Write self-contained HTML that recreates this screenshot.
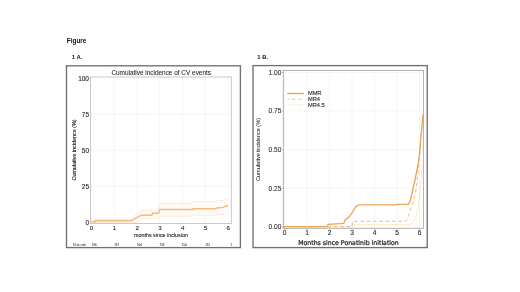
<!DOCTYPE html>
<html><head><meta charset="utf-8"><style>
html,body{margin:0;padding:0;background:#fff;width:520px;height:292px;overflow:hidden}
svg{display:block;font-family:"Liberation Sans", Arial, sans-serif;filter:blur(0.3px)}
</style></head><body>
<svg width="520" height="292" viewBox="0 0 520 292">
<text x="66.8" y="43.0" font-size="6.4" text-anchor="start" font-weight="bold" fill="#111" >Figure</text>
<text x="71.8" y="59.0" font-size="5.9" text-anchor="start" font-weight="bold" fill="#111" >1 A.</text>
<text x="257.3" y="59.0" font-size="5.9" text-anchor="start" font-weight="bold" fill="#111" >1 B.</text>
<rect x="66.5" y="65.8" width="173.9" height="181.8" fill="none" stroke="#707070" stroke-width="1.35"/>
<line x1="114.17" y1="77.0" x2="114.17" y2="223.5" stroke="#f4f4f4" stroke-width="0.8" />
<line x1="136.94" y1="77.0" x2="136.94" y2="223.5" stroke="#f4f4f4" stroke-width="0.8" />
<line x1="159.71" y1="77.0" x2="159.71" y2="223.5" stroke="#f4f4f4" stroke-width="0.8" />
<line x1="182.48000000000002" y1="77.0" x2="182.48000000000002" y2="223.5" stroke="#f4f4f4" stroke-width="0.8" />
<line x1="205.25" y1="77.0" x2="205.25" y2="223.5" stroke="#f4f4f4" stroke-width="0.8" />
<line x1="228.02" y1="77.0" x2="228.02" y2="223.5" stroke="#f4f4f4" stroke-width="0.8" />
<line x1="90.5" y1="186.3" x2="231.3" y2="186.3" stroke="#f4f4f4" stroke-width="0.8" />
<line x1="90.5" y1="150.2" x2="231.3" y2="150.2" stroke="#f4f4f4" stroke-width="0.8" />
<line x1="90.5" y1="114.10000000000001" x2="231.3" y2="114.10000000000001" stroke="#f4f4f4" stroke-width="0.8" />
<path d="M91.40,219.66 L131.25,219.66 L135.80,215.18 L139.22,212.29 L141.49,210.41 L157.43,210.41 L159.71,203.34 L192.50,203.34 L192.95,201.75 L215.95,201.75 L216.63,200.74 L223.47,200.16 L224.60,199.01 L228.02,198.57 L228.02,214.31 L216.63,214.46 L215.95,215.18 L192.95,215.18 L192.50,216.19 L159.71,216.19 L158.57,218.79 L141.49,218.79 L135.80,222.40 L91.40,222.40 Z" stroke="none" stroke-width="0" fill="#fffaf4" />
<path d="M91.40,219.66 L131.25,219.66 L135.80,215.18 L139.22,212.29 L141.49,210.41 L157.43,210.41 L159.71,203.34 L192.50,203.34 L192.95,201.75 L215.95,201.75 L216.63,200.74 L223.47,200.16 L224.60,199.01 L228.02,198.57" stroke="#f6d0a8" stroke-width="0.7" fill="none" stroke-dasharray="1.5,1"/>
<path d="M91.40,222.40 L135.80,222.40 L141.49,218.79 L158.57,218.79 L159.71,216.19 L192.50,216.19 L192.95,215.18 L215.95,215.18 L216.63,214.46 L228.02,214.31" stroke="#f7d4b0" stroke-width="0.7" fill="none" stroke-dasharray="1.5,1"/>
<path d="M91.40,221.82 L95.50,221.82 L95.50,220.67 L131.25,220.67 L135.80,218.07 L141.49,215.18 L151.74,215.18 L152.65,213.16 L158.57,213.16 L159.71,209.55 L192.50,209.55 L192.95,208.68 L215.95,208.68 L216.63,207.96 L223.47,207.38 L224.60,206.52 L228.02,205.94" stroke="#f3bc7e" stroke-width="1.5" fill="none" />
<rect x="90.5" y="77.0" width="140.80" height="146.50" fill="none" stroke="#c4c4c4" stroke-width="0.9"/>
<text x="161.2" y="74.9" font-size="6.4" text-anchor="middle" font-weight="normal" fill="#1a1a1a" stroke="#1a1a1a" stroke-width="0.05" textLength="99.6" lengthAdjust="spacingAndGlyphs" >Cumulative incidence of CV events</text>
<text x="89.0" y="80.8" font-size="6.5" text-anchor="end" font-weight="normal" fill="#222" stroke="#222" stroke-width="0.1" >100</text>
<line x1="89.6" y1="78.0" x2="90.5" y2="78.0" stroke="#aaa" stroke-width="0.6" />
<text x="89.0" y="116.9" font-size="6.5" text-anchor="end" font-weight="normal" fill="#222" stroke="#222" stroke-width="0.1" >75</text>
<line x1="89.6" y1="114.10000000000001" x2="90.5" y2="114.10000000000001" stroke="#aaa" stroke-width="0.6" />
<text x="89.0" y="153.0" font-size="6.5" text-anchor="end" font-weight="normal" fill="#222" stroke="#222" stroke-width="0.1" >50</text>
<line x1="89.6" y1="150.2" x2="90.5" y2="150.2" stroke="#aaa" stroke-width="0.6" />
<text x="89.0" y="189.10000000000002" font-size="6.5" text-anchor="end" font-weight="normal" fill="#222" stroke="#222" stroke-width="0.1" >25</text>
<line x1="89.6" y1="186.3" x2="90.5" y2="186.3" stroke="#aaa" stroke-width="0.6" />
<text x="89.0" y="225.20000000000002" font-size="6.5" text-anchor="end" font-weight="normal" fill="#222" stroke="#222" stroke-width="0.1" >0</text>
<line x1="89.6" y1="222.4" x2="90.5" y2="222.4" stroke="#aaa" stroke-width="0.6" />
<text x="91.60000000000001" y="229.9" font-size="6.2" text-anchor="middle" font-weight="normal" fill="#222" stroke="#222" stroke-width="0.1" >0</text>
<text x="114.37" y="229.9" font-size="6.2" text-anchor="middle" font-weight="normal" fill="#222" stroke="#222" stroke-width="0.1" >1</text>
<text x="137.14" y="229.9" font-size="6.2" text-anchor="middle" font-weight="normal" fill="#222" stroke="#222" stroke-width="0.1" >2</text>
<text x="159.91" y="229.9" font-size="6.2" text-anchor="middle" font-weight="normal" fill="#222" stroke="#222" stroke-width="0.1" >3</text>
<text x="182.68" y="229.9" font-size="6.2" text-anchor="middle" font-weight="normal" fill="#222" stroke="#222" stroke-width="0.1" >4</text>
<text x="205.45" y="229.9" font-size="6.2" text-anchor="middle" font-weight="normal" fill="#222" stroke="#222" stroke-width="0.1" >5</text>
<text x="228.22" y="229.9" font-size="6.2" text-anchor="middle" font-weight="normal" fill="#222" stroke="#222" stroke-width="0.1" >6</text>
<text x="161.0" y="237.3" font-size="5.5" text-anchor="middle" font-weight="normal" fill="#1a1a1a" stroke="#1a1a1a" stroke-width="0.1" textLength="53.8" lengthAdjust="spacingAndGlyphs" >months since inclusion</text>
<text x="0" y="0" font-size="4.8" text-anchor="middle" font-weight="normal" fill="#1a1a1a" stroke="#1a1a1a" stroke-width="0.1" textLength="61" lengthAdjust="spacingAndGlyphs" transform="translate(76.3,150.0) rotate(-90)">Cumulative incidence (%)</text>
<text x="72.9" y="245.7" font-size="3.2" text-anchor="start" font-weight="normal" fill="#444" stroke="#444" stroke-width="0.05" textLength="13.3" lengthAdjust="spacingAndGlyphs" >N at risk</text>
<text x="94.3" y="245.7" font-size="3.0" text-anchor="middle" font-weight="normal" fill="#444" stroke="#444" stroke-width="0.05" >186</text>
<text x="116.7" y="245.7" font-size="3.0" text-anchor="middle" font-weight="normal" fill="#444" stroke="#444" stroke-width="0.05" >167</text>
<text x="139.4" y="245.7" font-size="3.0" text-anchor="middle" font-weight="normal" fill="#444" stroke="#444" stroke-width="0.05" >164</text>
<text x="162.0" y="245.7" font-size="3.0" text-anchor="middle" font-weight="normal" fill="#444" stroke="#444" stroke-width="0.05" >158</text>
<text x="184.1" y="245.7" font-size="3.0" text-anchor="middle" font-weight="normal" fill="#444" stroke="#444" stroke-width="0.05" >154</text>
<text x="207.7" y="245.7" font-size="3.0" text-anchor="middle" font-weight="normal" fill="#444" stroke="#444" stroke-width="0.05" >152</text>
<text x="231.3" y="245.7" font-size="3.0" text-anchor="middle" font-weight="normal" fill="#444" stroke="#444" stroke-width="0.05" >1</text>
<rect x="253.0" y="65.6" width="174.2" height="182.0" fill="none" stroke="#707070" stroke-width="1.35"/>
<line x1="284.5" y1="70.4" x2="284.5" y2="228.3" stroke="#f4f4f4" stroke-width="0.8" />
<line x1="307.0" y1="70.4" x2="307.0" y2="228.3" stroke="#f4f4f4" stroke-width="0.8" />
<line x1="329.5" y1="70.4" x2="329.5" y2="228.3" stroke="#f4f4f4" stroke-width="0.8" />
<line x1="352.0" y1="70.4" x2="352.0" y2="228.3" stroke="#f4f4f4" stroke-width="0.8" />
<line x1="374.5" y1="70.4" x2="374.5" y2="228.3" stroke="#f4f4f4" stroke-width="0.8" />
<line x1="397.0" y1="70.4" x2="397.0" y2="228.3" stroke="#f4f4f4" stroke-width="0.8" />
<line x1="419.5" y1="70.4" x2="419.5" y2="228.3" stroke="#f4f4f4" stroke-width="0.8" />
<line x1="283.3" y1="188.375" x2="423.4" y2="188.375" stroke="#f4f4f4" stroke-width="0.8" />
<line x1="283.3" y1="149.75" x2="423.4" y2="149.75" stroke="#f4f4f4" stroke-width="0.8" />
<line x1="283.3" y1="111.125" x2="423.4" y2="111.125" stroke="#f4f4f4" stroke-width="0.8" />
<line x1="283.3" y1="72.5" x2="423.4" y2="72.5" stroke="#f4f4f4" stroke-width="0.8" />
<path d="M283.60,226.80 L352.00,226.80 L352.40,224.70 L409.00,224.70 L412.00,223.50 L414.00,221.00 L415.50,218.00 L417.50,211.00 L419.00,203.00 L420.30,190.00 L421.20,178.00 L422.00,165.00" stroke="#efc07e" stroke-width="0.9" fill="none" stroke-dasharray="0.8,1.2"/>
<path d="M283.60,226.70 L352.00,226.70 L352.40,221.30 L405.50,221.30 L407.00,219.50 L408.50,216.00 L409.60,212.60 L411.20,207.50 L412.80,203.00 L414.40,196.50 L415.90,190.50 L417.50,178.00 L419.00,165.00 L419.80,152.60 L420.60,140.00 L421.30,130.00" stroke="#e9a665" stroke-width="0.8" fill="none" stroke-dasharray="3.5,2.8"/>
<path d="M283.60,226.60 L327.30,226.60 L328.00,224.40 L343.80,223.30 L345.40,219.40 L349.20,216.90 L352.30,212.30 L353.80,210.00 L355.50,207.00 L358.60,204.90 L396.50,204.90 L397.00,204.40 L408.70,204.40 L410.30,200.50 L411.80,194.00 L413.20,187.50 L415.00,180.00 L416.80,171.00 L418.20,164.00 L419.30,156.00 L420.20,146.00 L421.00,136.00 L422.00,126.00 L423.00,114.50" stroke="#eba552" stroke-width="1.3" fill="none" />
<rect x="283.3" y="70.4" width="140.10" height="157.90" fill="none" stroke="#a8a8a8" stroke-width="0.9"/>
<text x="281.3" y="74.85" font-size="6.55" text-anchor="end" font-weight="normal" fill="#262626" stroke="#262626" stroke-width="0.06" >1.00</text>
<line x1="281.8" y1="72.5" x2="283.3" y2="72.5" stroke="#999" stroke-width="0.6" />
<text x="281.3" y="113.475" font-size="6.55" text-anchor="end" font-weight="normal" fill="#262626" stroke="#262626" stroke-width="0.06" >0.75</text>
<line x1="281.8" y1="111.125" x2="283.3" y2="111.125" stroke="#999" stroke-width="0.6" />
<text x="281.3" y="152.1" font-size="6.55" text-anchor="end" font-weight="normal" fill="#262626" stroke="#262626" stroke-width="0.06" >0.50</text>
<line x1="281.8" y1="149.75" x2="283.3" y2="149.75" stroke="#999" stroke-width="0.6" />
<text x="281.3" y="190.725" font-size="6.55" text-anchor="end" font-weight="normal" fill="#262626" stroke="#262626" stroke-width="0.06" >0.25</text>
<line x1="281.8" y1="188.375" x2="283.3" y2="188.375" stroke="#999" stroke-width="0.6" />
<text x="281.3" y="229.35" font-size="6.55" text-anchor="end" font-weight="normal" fill="#262626" stroke="#262626" stroke-width="0.06" >0.00</text>
<line x1="281.8" y1="227.0" x2="283.3" y2="227.0" stroke="#999" stroke-width="0.6" />
<text x="284.5" y="235.0" font-size="6.6" text-anchor="middle" font-weight="normal" fill="#222" stroke="#222" stroke-width="0.1" >0</text>
<line x1="284.5" y1="228.3" x2="284.5" y2="229.6" stroke="#999" stroke-width="0.6" />
<text x="307.0" y="235.0" font-size="6.6" text-anchor="middle" font-weight="normal" fill="#222" stroke="#222" stroke-width="0.1" >1</text>
<line x1="307.0" y1="228.3" x2="307.0" y2="229.6" stroke="#999" stroke-width="0.6" />
<text x="329.5" y="235.0" font-size="6.6" text-anchor="middle" font-weight="normal" fill="#222" stroke="#222" stroke-width="0.1" >2</text>
<line x1="329.5" y1="228.3" x2="329.5" y2="229.6" stroke="#999" stroke-width="0.6" />
<text x="352.0" y="235.0" font-size="6.6" text-anchor="middle" font-weight="normal" fill="#222" stroke="#222" stroke-width="0.1" >3</text>
<line x1="352.0" y1="228.3" x2="352.0" y2="229.6" stroke="#999" stroke-width="0.6" />
<text x="374.5" y="235.0" font-size="6.6" text-anchor="middle" font-weight="normal" fill="#222" stroke="#222" stroke-width="0.1" >4</text>
<line x1="374.5" y1="228.3" x2="374.5" y2="229.6" stroke="#999" stroke-width="0.6" />
<text x="397.0" y="235.0" font-size="6.6" text-anchor="middle" font-weight="normal" fill="#222" stroke="#222" stroke-width="0.1" >5</text>
<line x1="397.0" y1="228.3" x2="397.0" y2="229.6" stroke="#999" stroke-width="0.6" />
<text x="419.5" y="235.0" font-size="6.6" text-anchor="middle" font-weight="normal" fill="#222" stroke="#222" stroke-width="0.1" >6</text>
<line x1="419.5" y1="228.3" x2="419.5" y2="229.6" stroke="#999" stroke-width="0.6" />
<text x="348.5" y="244.7" font-size="6.5" text-anchor="middle" font-weight="normal" fill="#1a1a1a" stroke="#1a1a1a" stroke-width="0.22" textLength="100.6" lengthAdjust="spacingAndGlyphs" font-family="DejaVu Sans">Months since Ponatinib initiation</text>
<text x="0" y="0" font-size="5.1" text-anchor="middle" font-weight="normal" fill="#2a2a2a" stroke="#2a2a2a" stroke-width="0.05" textLength="63.0" lengthAdjust="spacingAndGlyphs" transform="translate(260.3,149.5) rotate(-90)">Cumulative incidence (%)</text>
<line x1="287.2" y1="93.5" x2="303.8" y2="93.5" stroke="#eba552" stroke-width="1.4" />
<line x1="287.3" y1="99.3" x2="303.8" y2="99.3" stroke="#eeb87c" stroke-width="0.85" stroke-dasharray="3.7,2.3" stroke-dashoffset="1.5"/>
<line x1="289.2" y1="104.9" x2="303.0" y2="104.9" stroke="#f2cd98" stroke-width="1.0" stroke-dasharray="0.9,1.0"/>
<text x="307.9" y="95.2" font-size="5.7" text-anchor="start" font-weight="normal" fill="#222" stroke="#222" stroke-width="0.1" >MMR</text>
<text x="307.9" y="101.3" font-size="5.7" text-anchor="start" font-weight="normal" fill="#222" stroke="#222" stroke-width="0.1" >MR4</text>
<text x="307.9" y="107.2" font-size="5.7" text-anchor="start" font-weight="normal" fill="#222" stroke="#222" stroke-width="0.1" >MR4.5</text>
</svg>
</body></html>
